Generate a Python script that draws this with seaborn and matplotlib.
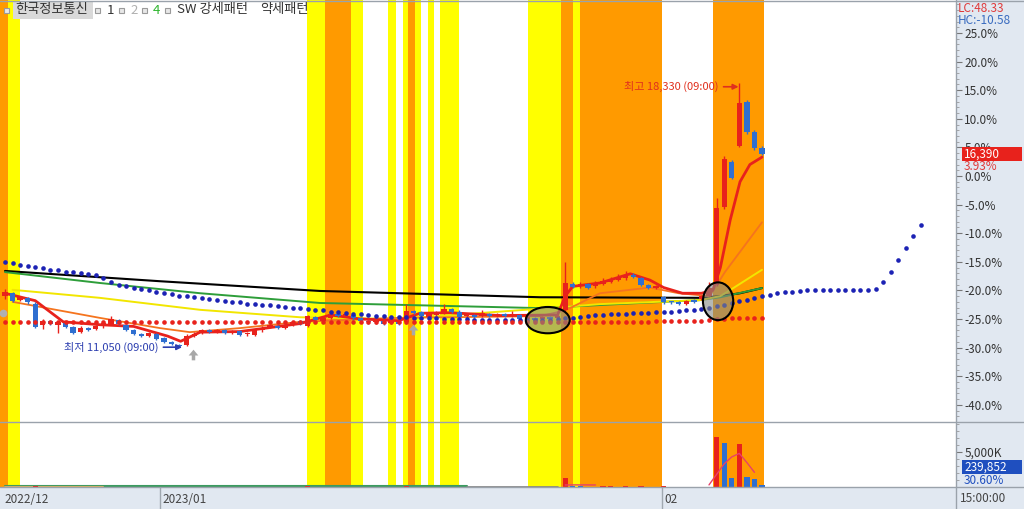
import numpy as np
import pandas as pd
import matplotlib
matplotlib.use("Agg")
import matplotlib.pyplot as plt
import seaborn as sns
from matplotlib.patches import Ellipse, Rectangle
from matplotlib.lines import Line2D
from matplotlib.path import Path
from matplotlib.ticker import MultipleLocator, FixedLocator

# ---------------- data (percent vs. base price, candle index on x) ----------------
opens = [-21.0, -20.5, -21.6, -21.3, -22.3, -26.0, -25.4, -26.0, -25.7, -26.4,
         -27.2, -26.6, -26.8, -26.3, -25.8, -25.2, -26.0, -27.0, -27.6, -28.0,
         -27.6, -28.4, -29.0, -29.5, -29.5, -28.0, -27.5, -27.0, -27.2, -27.0,
         -27.4, -27.1, -27.7, -27.8, -27.0, -26.4, -26.2, -26.5, -26.0, -25.4,
         -26.2, -24.6, -25.3, -24.8, -24.2, -24.4, -24.3, -24.8, -25.3, -25.6,
         -25.4, -25.7, -25.5, -25.6, -23.6, -23.8, -24.6, -24.3, -23.9, -23.3,
         -23.7, -24.5, -24.3, -24.5, -24.1, -24.4, -24.2, -24.5, -24.3, -25.0,
         -24.8, -25.0, -24.6, -24.8, -23.4, -18.8, -19.3, -18.9, -19.3, -18.8,
         -18.5, -18.1, -17.9, -17.3, -17.8, -19.0, -19.5, -21.2, -22.0, -22.0,
         -22.3, -21.7, -21.5, -21.0, -19.0, -5.5, 2.4, 5.3, 12.9, 7.7, 4.9]
closes = [-20.3, -21.8, -21.2, -22.0, -26.4, -25.3, -25.9, -25.5, -26.4, -27.4,
          -26.5, -26.9, -26.2, -25.7, -25.0, -25.9, -26.9, -27.6, -27.9, -27.5,
          -28.5, -29.0, -29.4, -29.8, -28.0, -27.6, -27.0, -27.3, -26.9, -27.5,
          -27.2, -27.8, -27.4, -26.9, -26.5, -26.2, -26.6, -26.0, -25.6, -25.9,
          -24.5, -25.2, -24.8, -24.2, -24.5, -24.1, -24.9, -25.4, -25.6, -25.3,
          -25.8, -25.5, -25.8, -23.6, -24.0, -24.5, -24.2, -23.8, -23.2, -23.7,
          -24.6, -24.2, -24.6, -24.0, -24.4, -24.1, -24.5, -24.2, -25.0, -24.7,
          -25.2, -24.6, -25.0, -24.5, -18.7, -19.4, -18.9, -19.5, -18.7, -18.4,
          -18.0, -17.7, -17.4, -17.7, -19.0, -19.6, -19.2, -22.1, -22.1, -22.3,
          -21.8, -22.0, -21.0, -19.5, -5.6, 3.0, -0.3, 12.8, 7.7, 4.9, 3.93]
highs = [-19.8, -20.2, -21.0, -21.1, -22.0, -25.0, -25.2, -25.3, -25.5, -26.2,
         -26.3, -26.4, -26.0, -25.5, -24.5, -25.0, -25.8, -26.8, -27.4, -27.3,
         -27.4, -28.2, -28.8, -29.3, -27.6, -27.3, -26.8, -26.8, -26.7, -26.8,
         -27.0, -26.9, -27.2, -26.7, -26.3, -25.9, -26.0, -25.5, -25.4, -25.2,
         -24.3, -24.4, -24.6, -24.0, -24.0, -23.9, -24.1, -24.6, -25.1, -25.1,
         -25.2, -25.3, -25.3, -22.3, -23.4, -23.6, -24.0, -23.6, -22.3, -23.1,
         -23.5, -24.0, -24.1, -23.5, -23.9, -23.9, -24.0, -23.6, -24.1, -24.5,
         -24.6, -24.4, -24.4, -24.3, -15.0, -18.5, -18.6, -18.7, -18.4, -17.8,
         -17.6, -17.2, -16.6, -17.0, -17.6, -18.8, -19.0, -21.0, -21.8, -21.8,
         -21.6, -21.5, -20.8, -18.5, -3.9, 3.5, 2.8, 16.23, 13.2, 8.0, 5.2]
lows = [-21.5, -22.0, -21.8, -22.3, -26.6, -26.8, -26.1, -27.4, -26.6, -27.6,
        -27.4, -27.1, -27.0, -26.5, -26.0, -26.1, -27.1, -27.8, -28.1, -28.2,
        -28.7, -29.2, -29.6, -29.93, -29.7, -28.2, -27.7, -27.5, -27.4, -27.7,
        -27.6, -28.0, -27.9, -28.0, -27.2, -26.6, -26.8, -26.7, -26.2, -26.1,
        -26.4, -25.4, -25.5, -25.0, -24.7, -24.6, -25.1, -25.6, -25.8, -25.8,
        -26.0, -25.9, -26.0, -25.8, -24.2, -24.7, -24.8, -24.5, -24.1, -23.9,
        -24.8, -24.7, -24.8, -24.7, -24.6, -24.6, -24.7, -24.7, -25.2, -25.2,
        -25.4, -25.2, -25.2, -25.0, -23.6, -19.6, -19.5, -19.7, -19.5, -19.0,
        -18.7, -18.3, -18.1, -17.9, -19.2, -19.8, -19.7, -22.3, -22.3, -22.5,
        -22.5, -22.2, -21.7, -21.2, -19.3, -5.8, -0.6, 5.0, 7.4, 4.6, 3.6]
volume_k = [60, 45, 40, 35, 80, 55, 40, 45, 38, 50, 42, 36, 40, 44, 52, 39, 47, 41, 38, 45,
            50, 43, 48, 55, 70, 52, 41, 39, 37, 44, 40, 46, 38, 42, 45, 51, 39, 37, 43, 48,
            90, 60, 55, 48, 44, 41, 50, 46, 39, 37, 42, 38, 41, 85, 62, 49, 44, 40, 58, 47,
            43, 39, 36, 41, 38, 35, 37, 40, 39, 42, 44, 46, 52, 60, 1300, 90, 80, 70, 60, 75,
            80, 70, 75, 65, 80, 60, 55, 100, 50, 45, 40, 40, 35, 70, 7100, 6250, 1300, 6100,
            1400, 1200, 240]
vol_ma_k = [290, 300, 300, 300, 290] + [np.nan] * 14 + [300, 1800, 3300, 4300, 4800, 3500, 2100]
vol_ma_start = 74

# moving averages (knots: candle index, percent)
ma5_x = [0, 4.0, 7.7, 12.5, 17, 21.5, 23.2, 25.8, 31, 39, 43, 47, 52, 54.8, 58.8, 65.4, 73,
         74, 75, 78.6, 82.6, 85.2, 87, 89.5, 92, 93.5, 94.5, 95.8, 97.1, 98.4, 100]
ma5_y = [-20.5, -21.8, -25.5, -26.0, -26.3, -28.0, -28.9, -27.3, -27.2, -25.8, -24.3, -25.0,
         -25.3, -24.0, -23.9, -24.4, -24.3, -21.0, -19.3, -18.7, -17.1, -18.2, -19.5, -20.5,
         -20.5, -20.0, -16.0, -7.7, -1.0, 2.0, 3.3]
ma20_x = [1, 12.5, 20.5, 24.4, 31, 39, 52, 70.7, 74, 78.6, 85.2, 89, 93.1, 95.1, 100]
ma20_y = [-22.0, -24.8, -26.6, -27.3, -26.6, -25.5, -24.8, -24.5, -23.5, -20.5, -19.5, -20.5,
          -21.0, -16.8, -8.1]
ma60_x = [1, 12.5, 25.8, 39, 52, 70.7, 78.6, 91.8, 94.5, 96.2, 100]
ma60_y = [-19.9, -21.3, -23.4, -24.7, -25.0, -23.2, -22.4, -21.7, -21.0, -19.6, -16.4]
ma120_x = [0, 12.5, 25.8, 41.6, 70.7, 83.9, 91.8, 94.5, 100]
ma120_y = [-16.8, -18.7, -20.5, -22.2, -23.1, -22.2, -21.7, -21.2, -19.6]
ma240_x = [0, 20.5, 41.6, 70.7, 91.8, 94.5, 97.1, 100]
ma240_y = [-16.6, -18.4, -20.1, -21.2, -21.3, -21.0, -20.5, -19.6]

blue_dots = [-15.0, -15.2, -15.5, -15.7, -15.9, -16.1, -16.4, -16.5, -16.7, -16.8,
             -17.0, -17.1, -17.3, -17.9, -18.5, -19.1, -19.3, -19.6, -19.8, -20.0,
             -20.3, -20.5, -20.7, -20.9, -21.0, -21.2, -21.4, -21.5, -21.7, -21.9,
             -22.0, -22.1, -22.3, -22.4, -22.5, -22.6, -22.8, -22.9, -23.0, -23.1,
             -23.3, -23.4, -23.5, -23.7, -23.8, -24.0, -24.1, -24.2, -24.3, -24.4,
             -24.5, -24.6, -24.7, -24.7, -24.8, -24.8, -24.9, -24.9, -25.0, -25.0,
             -25.0, -25.0, -25.1, -25.1, -25.1, -25.1, -25.1, -25.2, -25.2, -25.2,
             -25.2, -25.2, -25.1, -25.0, -24.9, -24.8, -24.7, -24.5, -24.3, -24.3,
             -24.2, -24.2, -24.1, -24.0, -24.0, -23.9, -23.8, -23.8, -23.7, -23.6,
             -23.5, -23.4, -23.3, -23.0, -22.8, -22.5, -22.2, -21.9, -21.6, -21.3,
             -21.0, -20.8, -20.5, -20.3, -20.2, -20.1, -20.0, -19.9, -19.9, -19.9,
             -19.9, -19.9, -19.9, -19.9, -19.9, -19.8, -18.5, -16.8, -14.7, -12.6,
             -10.5, -8.6]
red_dots = [-25.6] * 71 + [-25.5] * 15 + [-25.3] * 7 + [-25.1, -25.0, -25.0, -24.9, -24.9, -24.8, -24.8, -24.8]

# pattern bands (start, end in candle index; Y = strong, O = weak)
band_start = [-0.66, 0.40, 39.9, 42.3, 45.7, 50.6, 52.6, 53.2, 54.2, 55.9, 57.5, 69.1, 73.4, 75.0, 76.0, 93.5]
band_end = [0.40, 2.00, 42.3, 45.7, 47.3, 51.7, 53.2, 54.2, 55.0, 56.7, 60.0, 73.4, 75.0, 76.0, 86.8, 100.3]
band_kind = ["O", "Y", "Y", "O", "Y", "Y", "Y", "O", "Y", "Y", "Y", "Y", "O", "Y", "O", "O"]

signal_x = [24.8, 53.9]
signal_y = [-31.3, -26.9]

month_labels = ["2022/12", "2023/01", "02"]
month_pos = [-0.3, 20.6, 86.9]

pct_ticks = [25, 20, 15, 10, 5, 0, -5, -10, -15, -20, -25, -30, -35, -40]

# ---------------- style ----------------
sns.set_theme(style="white")
plt.rcParams["font.family"] = ["Noto Sans CJK KR", "DejaVu Sans"]
plt.rcParams["axes.unicode_minus"] = False

PANEL = "#e1e8f1"
YEL, ORG = "#ffff00", "#ff9a00"
RED, BLUE = "#e8221c", "#2f6fd0"
W, H = 1024, 509
RIGHT = 956


def fx(px):
    return px / W


def fy(py):
    return 1 - py / H


fig = plt.figure(figsize=(W / 100, H / 100), dpi=100, facecolor=PANEL)
ax = fig.add_axes([0, fy(422), fx(RIGHT), fy(0) - fy(422)])
vax = fig.add_axes([0, fy(487), fx(RIGHT), fy(422) - fy(487)], sharex=ax)
dax = fig.add_axes([0, 0, fx(RIGHT), fy(487)], sharex=ax)

x0 = 5.0
step = 7.57
ax.set_xlim(-x0 / step, (RIGHT - x0) / step)
ax.set_ylim(-43.01, 30.77)
vax.set_ylim(0, 9286)

for a in (ax, vax):
    a.set_facecolor("white")
    for s in a.spines.values():
        s.set_visible(False)
    for s, e, k in zip(band_start, band_end, band_kind):
        a.axvspan(s, e, color=YEL if k == "Y" else ORG, lw=0, zorder=0)

# candles
df = pd.DataFrame({"i": np.arange(len(opens)), "o": opens, "c": closes, "h": highs, "l": lows})
cols = np.where(df.c >= df.o, RED, BLUE)
ax.vlines(df.i, df.l, df.h, colors=cols, lw=1.0, zorder=3)
body = np.maximum((df.c - df.o).abs(), 0.3)
ax.bar(df.i, body, bottom=np.minimum(df.o, df.c), width=0.7, color=cols, lw=0, zorder=3)

# moving averages
sns.lineplot(x=ma240_x, y=ma240_y, ax=ax, color="black", lw=1.5, zorder=2, legend=False)
sns.lineplot(x=ma120_x, y=ma120_y, ax=ax, color="#2e9e3a", lw=1.4, zorder=2, legend=False)
sns.lineplot(x=ma60_x, y=ma60_y, ax=ax, color="#f2e600", lw=1.4, zorder=2, legend=False)
sns.lineplot(x=ma20_x, y=ma20_y, ax=ax, color="#f5741e", lw=1.3, zorder=2, legend=False)
sns.lineplot(x=ma5_x, y=ma5_y, ax=ax, color=RED, lw=2.0, zorder=2.5, legend=False)

sns.scatterplot(x=np.arange(len(blue_dots)), y=blue_dots, ax=ax, color="#1c22b4", s=11,
                linewidth=0, zorder=5, legend=False)
sns.scatterplot(x=np.arange(len(red_dots)), y=red_dots, ax=ax, color="#e8221c", s=11,
                linewidth=0, zorder=5, legend=False)

arrow_marker = Path([(-0.5, 0.0), (0.0, 0.6), (0.5, 0.0), (0.18, 0.0), (0.18, -0.5),
                     (-0.18, -0.5), (-0.18, 0.0), (-0.5, 0.0)])
ax.scatter(signal_x, signal_y, marker=arrow_marker, s=70, color="#a8a8a8", lw=0, zorder=5)
ax.scatter([-0.2], [-24.0], marker="o", s=30, color="#b0b0b0", lw=0, zorder=5)

ellfc = (0.52, 0.54, 0.52, 0.6)
ax.add_patch(Ellipse((71.7, -25.2), 5.8, 4.6, fc=ellfc, ec="black", lw=1.5, zorder=6))
ax.add_patch(Ellipse((94.2, -21.9), 4.0, 6.6, fc=ellfc, ec="black", lw=1.5, zorder=6))

ax.annotate("최저 11,050 (09:00)", xy=(23.4, -29.93), xytext=(20.3, -29.93), ha="right", va="center",
            fontsize=8, color="#2d3fb0", zorder=7,
            arrowprops=dict(arrowstyle="-|>", color="#2d3fb0", lw=1.2, mutation_scale=8, shrinkA=1, shrinkB=0))
ax.annotate("최고 18,330 (09:00)", xy=(96.9, 15.6), xytext=(94.3, 15.6), ha="right", va="center",
            fontsize=8, color="#e0301e", zorder=7,
            arrowprops=dict(arrowstyle="-|>", color="#e0301e", lw=1.2, mutation_scale=8, shrinkA=1, shrinkB=0))

# price axis ticks
ax.yaxis.tick_right()
ax.yaxis.set_major_locator(FixedLocator(pct_ticks))
ax.set_yticklabels([f"{t:.1f}%" for t in pct_ticks])
ax.yaxis.set_minor_locator(MultipleLocator(1))
ax.tick_params(axis="y", which="major", right=True, left=False, length=4, width=0.8, color="#777777",
               labelsize=8.5, labelcolor="#333333", pad=2)
ax.tick_params(axis="y", which="minor", right=True, left=False, length=2, width=0.6, color="#999999")
ax.tick_params(axis="x", bottom=False, labelbottom=False)
ax.set_xlabel("")
ax.set_ylabel("")

# volume
vcols = [RED] + [RED if volume_k[k] >= volume_k[k - 1] else BLUE for k in range(1, len(volume_k))]
vax.bar(np.arange(len(volume_k)), volume_k, width=0.7, color=vcols, lw=0, zorder=3)
vax.plot(np.arange(vol_ma_start, vol_ma_start + len(vol_ma_k)), vol_ma_k,
         color="#e8406a", lw=1.0, zorder=4)
vax.plot([0, 61], [110, 110], color="#3c9a60", lw=1.5, zorder=2)
vax.plot([0, 13], [40, 40], color="#d8b060", lw=1.5, zorder=2)
vax.plot([61, 73], [25, 25], color="#808080", lw=1.2, zorder=2)
vax.yaxis.tick_right()
vax.yaxis.set_major_locator(FixedLocator([5000]))
vax.set_yticklabels(["5,000K"])
vax.yaxis.set_minor_locator(MultipleLocator(1000))
vax.tick_params(axis="y", which="major", right=True, left=False, length=4, width=0.8, color="#777777",
                labelsize=8.5, labelcolor="#333333", pad=2)
vax.tick_params(axis="y", which="minor", right=True, left=False, length=2, width=0.6, color="#999999")
vax.tick_params(axis="x", bottom=False, labelbottom=False)
vax.set_xlabel("")
vax.set_ylabel("")

# date strip
dax.set_facecolor(PANEL)
dax.set_ylim(0, 1)
for s in dax.spines.values():
    s.set_visible(False)
dax.tick_params(axis="both", bottom=False, left=False, labelbottom=False, labelleft=False)
for lab, pos in zip(month_labels, month_pos):
    dax.text(pos + 0.2, 0.45, lab, fontsize=8.5, color="#444444", va="center", ha="left")
    if pos > 0:
        dax.axvline(pos - 0.1, color="#a0a8b0", lw=1)

# frame lines
for (xa, ya, xb, yb) in [(0, 0.5, W, 0.5), (0, 422, W, 422), (0, 487, W, 487), (RIGHT, 0, RIGHT, 509)]:
    fig.add_artist(Line2D([fx(xa), fx(xb)], [fy(ya), fy(yb)], color="#9aa2ab", lw=1.0))

# right column labels
fig.text(fx(958), fy(8), "LC:48.33", color="#e03a3a", fontsize=8.5, va="center", ha="left")
fig.text(fx(958), fy(20), "HC:-10.58", color="#3a6cc0", fontsize=8.5, va="center", ha="left")
fig.add_artist(Rectangle((fx(962), fy(161)), fx(60), 14 / H, color=RED, lw=0))
fig.text(fx(964), fy(154), "16,390", color="white", fontsize=8.5, va="center", ha="left")
fig.text(fx(964), fy(167), "3.93%", color="#e03a3a", fontsize=8.5, va="center", ha="left")
fig.add_artist(Rectangle((fx(962), fy(474)), fx(60), 14 / H, color="#1f4fbf", lw=0))
fig.text(fx(964), fy(467), "239,852", color="white", fontsize=8.5, va="center", ha="left")
fig.text(fx(964), fy(480), "30.60%", color="#1f4fbf", fontsize=8.5, va="center", ha="left")
fig.text(fx(960), fy(498), "15:00:00", color="#444444", fontsize=8.5, va="center", ha="left")

# top legend
fig.add_artist(Rectangle((fx(13), fy(19)), fx(80), 17 / H, color="#d9d9d9", lw=0))
for sx in [4, 95, 119, 142, 165]:
    fig.add_artist(Rectangle((fx(sx), fy(13)), fx(5), 5 / H, fc="#e8e8e8", ec="#9a9a9a", lw=0.8))
fig.text(fx(15), fy(10), "한국정보통신", fontsize=9.5, color="#333333", va="center", ha="left")
fig.text(fx(107), fy(10), "1", fontsize=9.5, color="#333333", va="center", ha="left")
fig.text(fx(130), fy(10), "2", fontsize=9.5, color="#b0b0b0", va="center", ha="left")
fig.text(fx(153), fy(10), "4", fontsize=9.5, color="#2db52d", va="center", ha="left")
fig.text(fx(177), fy(10), "SW 강세패턴", fontsize=9.5, color="#333333", va="center", ha="left")
fig.text(fx(260), fy(10), "약세패턴", fontsize=9.5, color="#333333", va="center", ha="left")

fig.savefig("out.png", dpi=100, facecolor=PANEL)
